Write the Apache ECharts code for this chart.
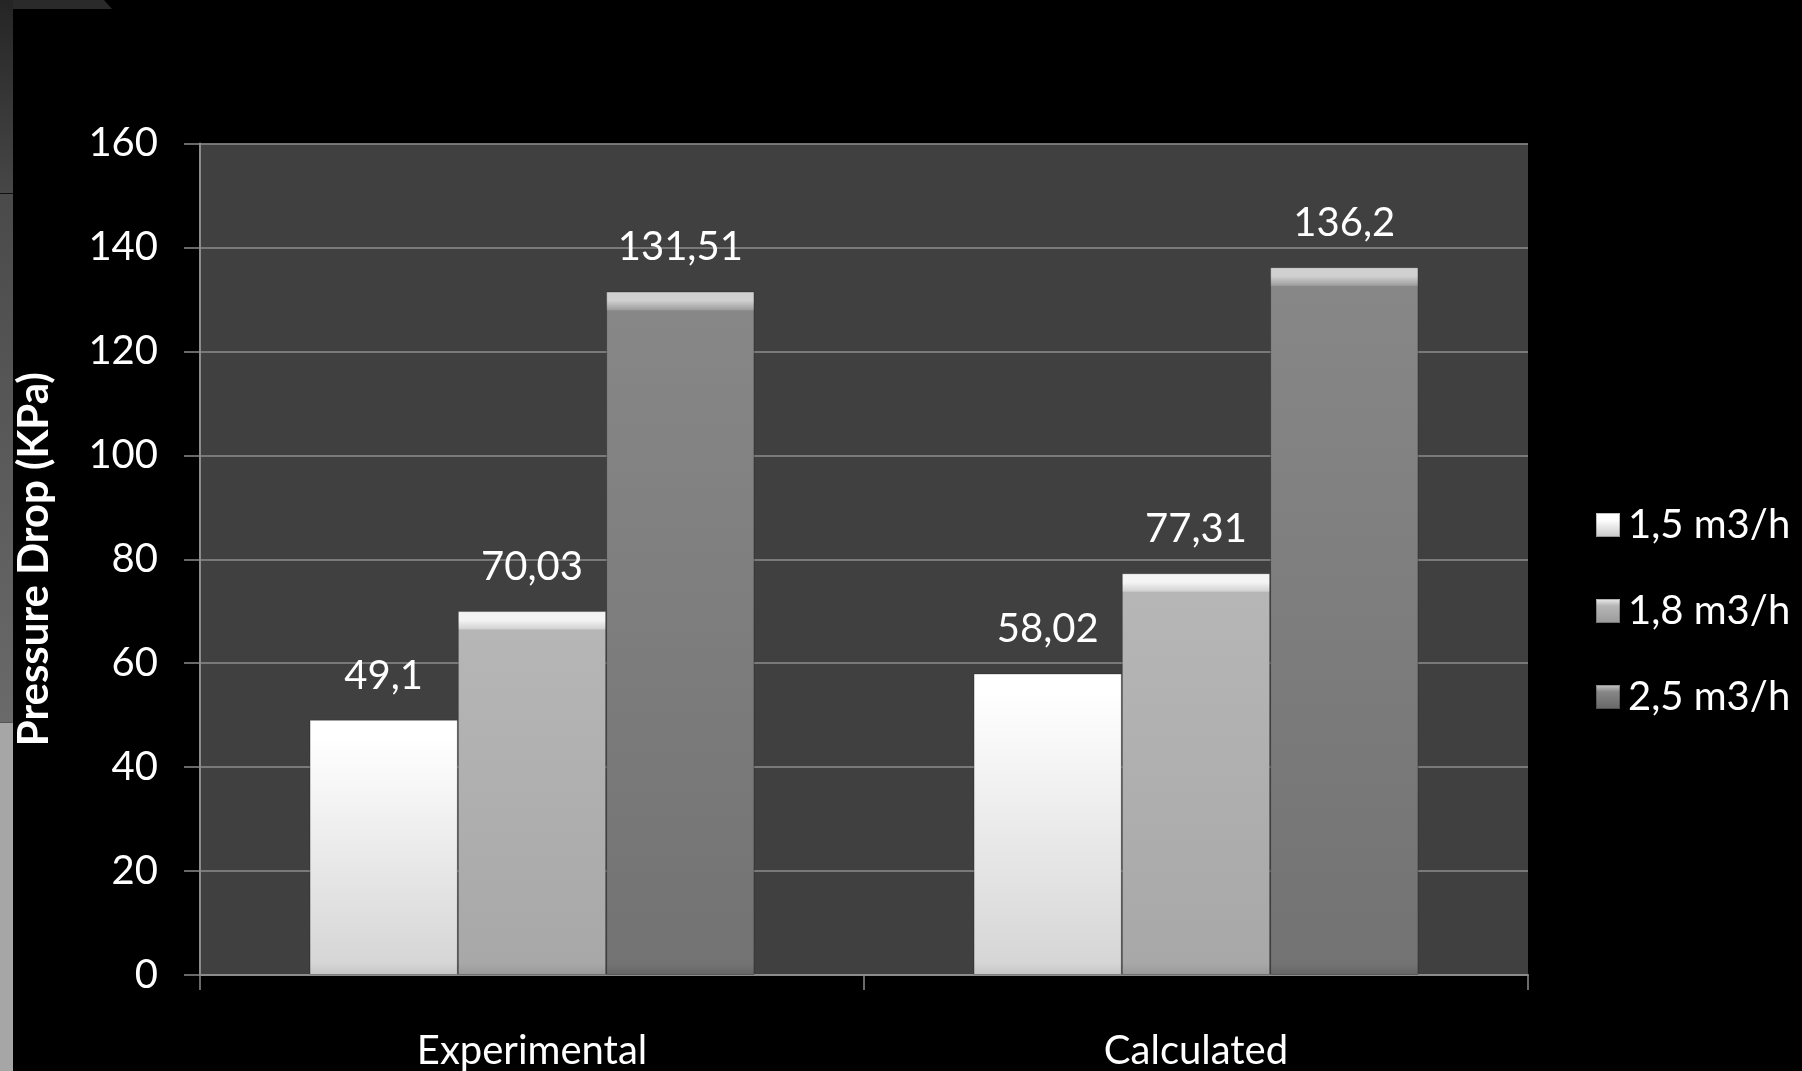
<!DOCTYPE html>
<html>
<head>
<meta charset="utf-8">
<script src="https://cdn.jsdelivr.net/npm/echarts@6/dist/echarts.min.js"></script>
<style>
  html, body { margin: 0; padding: 0; background: #000; }
  #chart { width: 1802px; height: 1071px; }
</style>
</head>
<body>
<div id="chart"></div>
<script>
const categories = ['Experimental', 'Calculated'];
const seriesNames = ['1,5 m3/h', '1,8 m3/h', '2,5 m3/h'];
const flow15 = [49.1, 58.02];
const flow18 = [70.03, 77.31];
const flow25 = [131.51, 136.2];
const yTicks = { min: 0, max: 160, interval: 20 };

const chart = echarts.init(document.getElementById('chart'));

// bevel-ish look: bright band at the top, soft body gradient below
const looks = [
  { hl: '#ffffff', mid: '#ffffff', top: '#ffffff', bottom: '#d6d6d6', foot: '#c4c4c4' },
  { hl: '#f4f4f4', mid: '#d2d2d2', top: '#b6b6b6', bottom: '#a8a8a8', foot: '#999999' },
  { hl: '#d0d0d0', mid: '#a0a0a0', top: '#878787', bottom: '#737373', foot: '#666666' }
];
const plotH = 832.5;

function barFill(look, v) {
  const h = v / yTicks.max * plotH;
  const a = 9 / h, b = 18 / h;
  return new echarts.graphic.LinearGradient(0, 0, 0, 1, [
    { offset: 0, color: look.hl },
    { offset: a, color: look.hl },
    { offset: b, color: look.mid },
    { offset: Math.min(b + 0.002, 1), color: look.top },
    { offset: 1 - 12 / h, color: look.bottom },
    { offset: 1, color: look.foot }
  ]);
}

function makeSeries(name, values, look) {
  return {
    name: name,
    type: 'bar',
    barGap: '0%',
    barCategoryGap: '33%',
    itemStyle: {
      color: new echarts.graphic.LinearGradient(0, 0, 0, 1, [
        { offset: 0, color: look.hl },
        { offset: 0.3, color: look.top },
        { offset: 1, color: look.foot }
      ]),
      borderColor: 'rgba(0,0,0,0.25)',
      borderWidth: 1
    },
    label: {
      show: true,
      position: 'top',
      distance: 24,
      color: '#ffffff',
      fontFamily: 'Lato',
      fontSize: 40,
      formatter: p => String(p.value).replace('.', ',')
    },
    data: values.map(v => ({ value: v, itemStyle: { color: barFill(look, v) } }))
  };
}

const option = {
  backgroundColor: '#000000',
  animation: false,
  graphic: [
    { type: 'rect', left: 0, top: 0, shape: { width: 13, height: 194 },
      style: { fill: new echarts.graphic.LinearGradient(0, 0, 0, 1, [
        { offset: 0, color: '#252525' }, { offset: 1, color: '#474747' }]) } },
    { type: 'rect', left: 0, top: 194, shape: { width: 13, height: 529 },
      style: { fill: new echarts.graphic.LinearGradient(0, 0, 0, 1, [
        { offset: 0, color: '#4a4a4a' }, { offset: 1, color: '#6a6a6a' }]) } },
    { type: 'rect', left: 0, top: 723, shape: { width: 13, height: 348 },
      style: { fill: '#a6a6a6' } },
    { type: 'rect', left: 0, top: 193, shape: { width: 13, height: 1 }, style: { fill: '#111' } },
    { type: 'rect', left: 0, top: 722, shape: { width: 13, height: 1 }, style: { fill: '#555' } },
    { type: 'polygon', shape: { points: [[13, 0], [104, 0], [112, 9], [13, 9]] },
      style: { fill: '#2a2a2a' } }
  ],
  legend: {
    orient: 'vertical',
    left: 1590,
    top: 500,
    itemWidth: 24,
    itemHeight: 24,
    itemGap: 46,
    icon: 'rect',
    textStyle: { color: '#ffffff', fontFamily: 'Lato', fontSize: 40, padding: [0, 0, 0, 3] },
    data: seriesNames
  },
  grid: {
    left: 200,
    right: 274,
    top: 143.5,
    bottom: 95,
    show: true,
    backgroundColor: '#404040',
    borderWidth: 0
  },
  xAxis: {
    type: 'category',
    data: categories,
    axisLine: { lineStyle: { color: '#8c8c8c', width: 2 } },
    axisTick: { show: true, length: 15, lineStyle: { color: '#8c8c8c', width: 1.5 } },
    axisLabel: { color: '#ffffff', fontFamily: 'Lato', fontSize: 40, margin: 56 }
  },
  yAxis: {
    type: 'value',
    min: yTicks.min,
    max: yTicks.max,
    interval: yTicks.interval,
    name: 'Pressure Drop (KPa)',
    nameLocation: 'middle',
    nameGap: 145,
    nameTextStyle: { color: '#ffffff', fontFamily: 'Lato', fontWeight: 'bold', fontSize: 42 },
    axisLine: { show: true, lineStyle: { color: '#8c8c8c', width: 2 } },
    axisTick: { show: true, length: 16, lineStyle: { color: '#8c8c8c', width: 1.5 } },
    axisLabel: { color: '#ffffff', fontFamily: 'Lato', fontSize: 40, margin: 42 },
    splitLine: { lineStyle: { color: '#8c8c8c', width: 1.5 } }
  },
  series: [
    makeSeries(seriesNames[0], flow15, looks[0]),
    makeSeries(seriesNames[1], flow18, looks[1]),
    makeSeries(seriesNames[2], flow25, looks[2])
  ]
};

chart.setOption(option);
</script>
</body>
</html>
